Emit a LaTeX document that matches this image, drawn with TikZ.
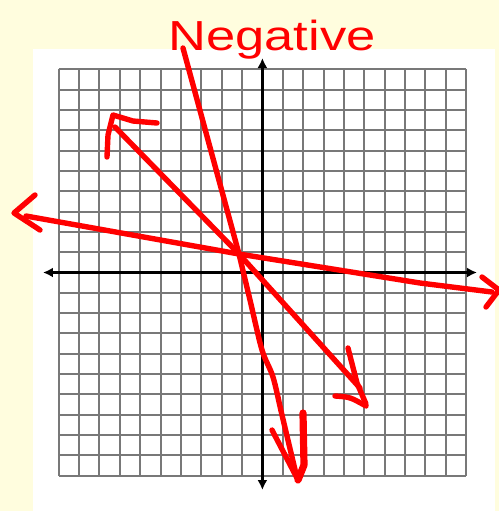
\documentclass[tikz,border=0pt]{standalone}
\usepackage{fontspec}
\setmainfont{Liberation Sans}
\usetikzlibrary{arrows.meta}
\definecolor{paleyellow}{RGB}{255,253,222}
\definecolor{gridgray}{RGB}{120,120,120}
\tikzset{
gridline/.style={draw=gridgray,line width=1pt},
axisline/.style={{Latex[length=5pt,width=5pt]}-{Latex[length=5pt,width=5pt]},line width=1.4pt},
redpen/.style={draw=red,line width=2.7pt,line cap=round,line join=round},
negtext/.style={text=red,font=\fontsize{21}{21}\selectfont,inner sep=0pt,xscale=1.25}
}

\begin{document}
\begin{tikzpicture}[x=.5pt,y=-.5pt]
\useasboundingbox (0,0) rectangle (499,511);
\fill[paleyellow] (0,0) rectangle (499,511);
\fill[white] (33,49) rectangle (495,511);
\foreach \i in {0,...,20}{
\draw[gridline] ({58.7+20.37*\i},69.3) -- ({58.7+20.37*\i},475.7);
\draw[gridline] (58.7,{69.3+20.32*\i}) -- (466.1,{69.3+20.32*\i});
}
\coordinate (xl) at (43,272.5);
\coordinate (xr) at (477,272.5);
\coordinate (yt) at (262.4,58);
\coordinate (yb) at (262.4,490);
\draw[axisline] (xl) -- (xr);
\draw[axisline] (yb) -- (yt);

\coordinate (O) at (239,254);
\node[negtext,anchor=base west] (neg) at (168,50) {Negative};

\draw[redpen] (26,216) -- (O) -- (420,283) -- (492,292);
\draw[redpen] (35,195) -- (14,213) -- (40,230);
\draw[redpen] (482,277) -- (499,290) -- (486,307);

\draw[redpen] (115,127) -- (O) -- (360,388);
\draw[redpen] (157,123) -- (133,121) -- (113,115) -- (108,135) -- (107,157);
\draw[redpen] (348,348) -- (357,383) -- (366,404);
\draw[redpen] (335,396) .. controls (350,397) .. (366,406);

\draw[redpen] (183,48) -- (O);
\draw[redpen] plot[smooth] coordinates {(O) (250,300) (262,350) (273,377) (282,415) (297,478)};
\draw[redpen] (272,430) -- (297,478);
\draw[redpen,line width=3.6pt] (303,413) -- (304,465) -- (298,480);
\end{tikzpicture}
\end{document}
